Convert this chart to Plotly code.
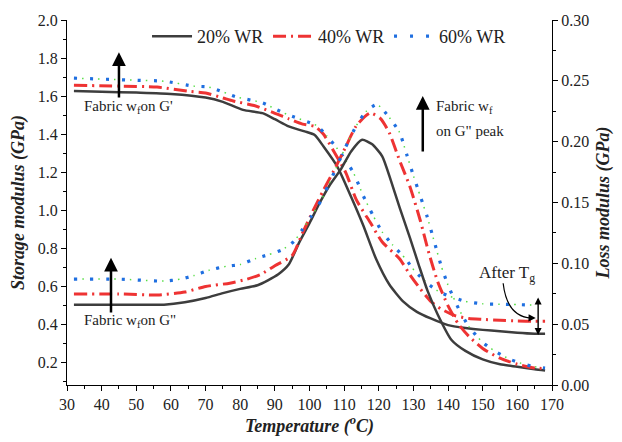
import plotly.graph_objects as go

# ---------------- data ----------------
t_gp_20 = [32, 40, 50, 60, 70, 75, 80.8, 86.4, 90, 94, 98.6, 101.5, 104, 108, 112, 115.5, 119.2, 123, 127, 131, 135, 140, 145, 150, 155, 160, 165, 168]
gp_20 = [1.626, 1.623, 1.618, 1.611, 1.592, 1.569, 1.527, 1.510, 1.478, 1.44, 1.414, 1.395, 1.336, 1.23, 1.07, 0.92, 0.744, 0.61, 0.52, 0.465, 0.43, 0.395, 0.38, 0.37, 0.363, 0.355, 0.35, 0.35]

t_gpp_20 = [32, 45, 58, 64, 70, 75, 80, 85, 88, 91, 94, 97, 100, 103, 106, 109, 112, 115.2, 118, 121, 123.5, 126, 129, 131.5, 134, 137, 141, 145, 150, 155, 160, 165, 168]
gpp_20 = [0.066, 0.066, 0.066, 0.068, 0.0715, 0.0755, 0.079, 0.082, 0.086, 0.091, 0.099, 0.117, 0.133, 0.150, 0.165, 0.177, 0.192, 0.2016, 0.198, 0.188, 0.168, 0.146, 0.121, 0.099, 0.078, 0.058, 0.037, 0.028, 0.021, 0.017, 0.015, 0.013, 0.012]

t_gp_40 = [32, 45, 56, 65, 70, 75, 78, 84, 89, 94, 98, 101.5, 104, 107, 110.5, 113.5, 117.5, 121, 126, 129, 132, 135, 138, 142, 146, 150, 155, 160, 165, 168]
gp_40 = [1.657, 1.652, 1.647, 1.625, 1.616, 1.59, 1.574, 1.55, 1.517, 1.48, 1.452, 1.44, 1.40, 1.31, 1.196, 1.055, 0.936, 0.832, 0.744, 0.66, 0.585, 0.52, 0.48, 0.445, 0.43, 0.425, 0.42, 0.417, 0.415, 0.415]

t_gpp_40 = [32, 45, 56, 64, 70, 77, 82, 86, 90, 95, 98, 101, 104, 107, 110.5, 113.5, 117.5, 120.5, 123, 126, 129, 132, 134.5, 137, 140, 143, 146, 150, 155, 160, 165, 168]
gpp_40 = [0.0748, 0.0748, 0.074, 0.0764, 0.081, 0.0837, 0.087, 0.091, 0.098, 0.1065, 0.125, 0.143, 0.160, 0.176, 0.196, 0.213, 0.2235, 0.219, 0.2075, 0.1846, 0.163, 0.135, 0.108, 0.085, 0.065, 0.050, 0.040, 0.030, 0.022, 0.017, 0.014, 0.0135]

t_gp_60 = [32, 50, 58, 66.7, 71, 79, 86.5, 90, 94, 98.6, 102, 105, 109, 112.7, 115.5, 118.3, 121, 124, 127.7, 130.5, 134.4, 137, 140, 145, 150, 155, 160, 165]
gp_60 = [1.694, 1.683, 1.678, 1.652, 1.647, 1.595, 1.564, 1.533, 1.50, 1.47, 1.445, 1.39, 1.30, 1.196, 1.076, 0.973, 0.884, 0.817, 0.744, 0.677, 0.61, 0.575, 0.55, 0.52, 0.507, 0.505, 0.503, 0.50]

t_gpp_60 = [32, 45, 58, 62.7, 66.7, 71, 76, 80, 84.5, 88, 92, 95.5, 98, 100.6, 103.4, 107, 110, 113.5, 116.4, 119.5, 123, 126, 128, 130, 132, 134, 136, 138, 140, 143, 146, 150, 154, 158, 162, 165, 168]
gpp_60 = [0.087, 0.087, 0.0854, 0.087, 0.090, 0.0943, 0.0976, 0.099, 0.104, 0.107, 0.111, 0.118, 0.128, 0.139, 0.152, 0.174, 0.193, 0.213, 0.225, 0.2305, 0.220, 0.2075, 0.190, 0.172, 0.155, 0.138, 0.118, 0.098, 0.082, 0.063, 0.048, 0.035, 0.027, 0.021, 0.017, 0.015, 0.014]

series_names = ["20% WR", "40% WR", "60% WR"]
x_ticks = list(range(30, 171, 10))
left_ticks = [0.2, 0.4, 0.6, 0.8, 1.0, 1.2, 1.4, 1.6, 1.8, 2.0]
right_ticks = [0.0, 0.05, 0.10, 0.15, 0.20, 0.25, 0.30]

# ---------------- style ----------------
BLACK = "#3d3d3d"
RED = "#ee3333"
BLUE = "#1f6fe0"
GREEN = "#55dd44"
FONT = "Liberation Serif, Times New Roman, serif"

fig = go.Figure()

def add_black(t, v, yaxis, show):
    fig.add_trace(go.Scatter(x=t, y=v, yaxis=yaxis, mode="lines", name=series_names[0],
                             showlegend=show, legendgroup="a",
                             line=dict(color=BLACK, width=2.5, shape="spline", smoothing=0.6)))

def add_red(t, v, yaxis, show):
    fig.add_trace(go.Scatter(x=t, y=v, yaxis=yaxis, mode="lines", name=series_names[1],
                             showlegend=show, legendgroup="b",
                             line=dict(color=RED, width=3, dash="13px,5px,2px,5px", shape="spline", smoothing=0.6)))

def add_blue(t, v, yaxis, show):
    fig.add_trace(go.Scatter(x=t, y=v, yaxis=yaxis, mode="lines", showlegend=False,
                             legendgroup="c", hoverinfo="skip",
                             line=dict(color=GREEN, width=1.5, dash="0px,8px,1.5px,6.5px", shape="spline", smoothing=0.6)))
    fig.add_trace(go.Scatter(x=t, y=v, yaxis=yaxis, mode="lines", name=series_names[2],
                             showlegend=show, legendgroup="c",
                             line=dict(color=BLUE, width=3.2, dash="3px,13px", shape="spline", smoothing=0.6)))

add_black(t_gp_20, gp_20, "y", True)
add_red(t_gp_40, gp_40, "y", True)
add_blue(t_gp_60, gp_60, "y", True)
add_black(t_gpp_20, gpp_20, "y2", False)
add_red(t_gpp_40, gpp_40, "y2", False)
add_blue(t_gpp_60, gpp_60, "y2", False)

axis_common = dict(showline=True, linecolor="black", linewidth=1.3, ticks="outside", ticklen=5,
                   tickwidth=1.2, tickcolor="black", showgrid=False, zeroline=False,
                   tickfont=dict(family=FONT, size=16, color="#222"))

fig.update_layout(
    width=622, height=442,
    margin=dict(l=67, r=59, t=15, b=57),
    paper_bgcolor="white", plot_bgcolor="white",
    font=dict(family=FONT, size=16, color="#222"),
    xaxis=dict(range=[30, 170], tickvals=x_ticks,
               minor=dict(ticks="outside", ticklen=3, dtick=5, tick0=30, tickcolor="black"),
               title=dict(text="<b><i>Temperature (<sup>o</sup>C)</i></b>", font=dict(family=FONT, size=18), standoff=3),
               **axis_common),
    yaxis=dict(range=[0.08, 2.0], tickvals=left_ticks, tickformat=".1f",
               minor=dict(ticks="outside", ticklen=3, dtick=0.1, tick0=0, tickcolor="black"),
               title=dict(text="<b><i>Storage modulus (GPa)</i></b>", font=dict(family=FONT, size=18), standoff=8),
               **axis_common),
    yaxis2=dict(range=[0, 0.30], tickvals=right_ticks, tickformat=".2f", overlaying="y", side="right",
                minor=dict(ticks="outside", ticklen=3, dtick=0.025, tick0=0, tickcolor="black"),
                title=dict(text="<b><i>Loss modulus (GPa)</i></b>", font=dict(family=FONT, size=18), standoff=8),
                **axis_common),
    legend=dict(orientation="h", x=0.165, y=0.955, xanchor="left", yanchor="middle",
                bgcolor="rgba(0,0,0,0)", font=dict(family=FONT, size=18, color="#222"),
                itemwidth=40, tracegroupgap=0, entrywidth=66, entrywidthmode="pixels"),
    showlegend=True,
)

# arrows (data coordinates on the left axis)
def arrow(x, y0, y1):
    fig.add_annotation(x=x, y=y1, ax=x, ay=y0, xref="x", yref="y", axref="x", ayref="y",
                       text="", showarrow=True, arrowhead=2, arrowsize=1.1, arrowwidth=2.5,
                       arrowcolor="black")

arrow(45.0, 1.585, 1.83)
arrow(42.7, 0.454, 0.75)
arrow(132.7, 1.30, 1.60)

def label(x, y, text, xanchor="center", size=15):
    fig.add_annotation(x=x, y=y, xref="x", yref="y", text=text, showarrow=False,
                       xanchor=xanchor, yanchor="middle", font=dict(family=FONT, size=size, color="#222"))

label(34.3, 1.543, "Fabric w<sub>f</sub>on G'", xanchor="left")
label(34.3, 0.417, "Fabric w<sub>f</sub>on G\"", xanchor="left")
label(136.0, 1.545, "Fabric w<sub>f</sub>", xanchor="left")
label(136.0, 1.415, "on G\" peak", xanchor="left")
label(148.3, 0.665, "After T<sub>g</sub>", xanchor="left", size=17)

# curved pointer for "After Tg"
fig.add_shape(type="path", xref="x", yref="y",
              path="M 155.9,0.615 Q 157.0,0.44 164.0,0.432",
              line=dict(color="black", width=1.2))
fig.add_annotation(x=165.3, y=0.432, ax=163.5, ay=0.433, xref="x", yref="y", axref="x", ayref="y",
                   text="", showarrow=True, arrowhead=2, arrowsize=1.2, arrowwidth=1.2, arrowcolor="black")
# double arrow
fig.add_annotation(x=166.0, y=0.54, ax=166.0, ay=0.335, xref="x", yref="y", axref="x", ayref="y",
                   text="", showarrow=True, arrowhead=2, startarrowhead=2, arrowsize=1.0, startarrowsize=1.0,
                   arrowwidth=1.4, arrowcolor="black", arrowside="end+start")

fig.write_html("out.html")
